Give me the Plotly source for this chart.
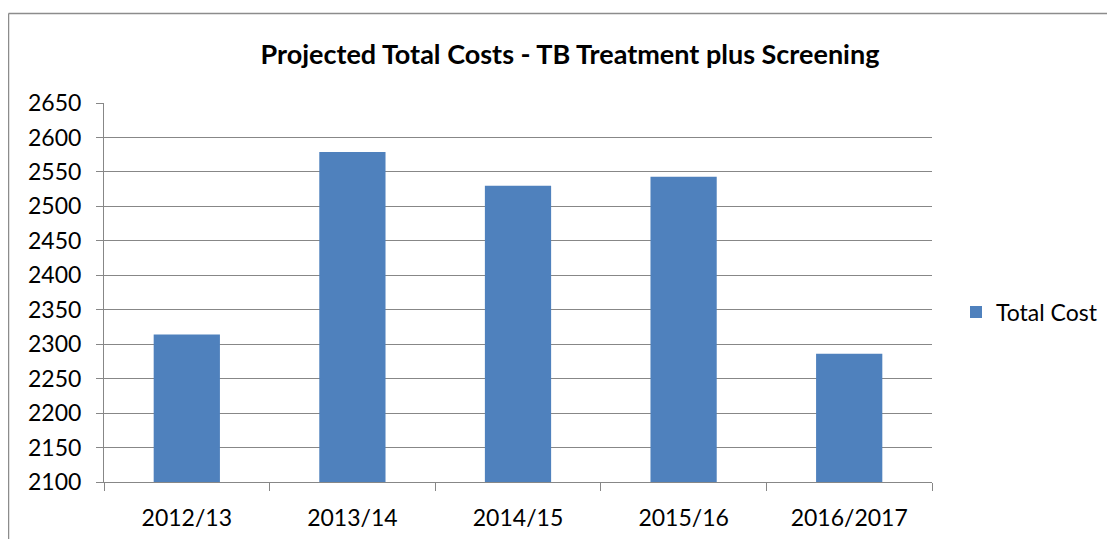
import plotly.graph_objects as go

categories = ["2012/13", "2013/14", "2014/15", "2015/16", "2016/2017"]
total_cost = [2314, 2579, 2530, 2543, 2286]
y_ticks = list(range(2100, 2651, 50))

FONT = "Lato, Carlito, Calibri, sans-serif"
GRID = "#878787"

# page body has an 8px margin; work in window coordinates and shift
OFF = 8
W, H = 1115 - OFF, 539 - OFF
L, R, T, B = 104 - OFF, 932 - OFF, 103 - OFF, 482 - OFF
pw, ph = R - L, B - T

def px(x):
    return (x - OFF - L) / pw

def py(y):
    return (B - (y - OFF)) / ph

fig = go.Figure()
fig.add_trace(go.Bar(
    x=categories, y=total_cost, name="Total Cost",
    marker=dict(color="#4F81BD", line=dict(width=0)),
    showlegend=True,
))

fig.update_layout(
    width=W, height=H,
    margin=dict(l=L, r=W - R, t=T, b=H - B, autoexpand=False),
    paper_bgcolor="white", plot_bgcolor="white",
    bargap=0.6,
    font=dict(family=FONT, size=23, color="#000000"),
    title=dict(text="<b>Projected Total Costs - TB Treatment plus Screening</b>",
               x=px(570), xref="paper", xanchor="center",
               y=1 - (55 - OFF) / H, yanchor="middle",
               font=dict(family=FONT, size=27, color="#000000")),
    legend=dict(x=px(956), y=py(312), xanchor="left", yanchor="middle",
                font=dict(family=FONT, size=23), bgcolor="rgba(0,0,0,0)",
                itemwidth=30),
    xaxis=dict(type="category", showline=True, linecolor=GRID, linewidth=1,
               ticks="outside", tickson="boundaries", ticklen=8, tickcolor=GRID,
               showgrid=False, tickfont=dict(family=FONT, size=23),
               ticklabelstandoff=15),
    yaxis=dict(range=[2100, 2650], tickvals=y_ticks, showline=True,
               linecolor=GRID, linewidth=1, ticks="outside", ticklen=7,
               tickcolor=GRID, showgrid=True, gridcolor=GRID, gridwidth=1,
               tickfont=dict(family=FONT, size=23), zeroline=False,
               ticklabelstandoff=10),
    shapes=[
        dict(type="line", xref="paper", yref="paper",
             x0=px(8.5), x1=px(8.5), y0=py(13.5), y1=py(560),
             line=dict(color="#8c8c8c", width=1.5)),
        dict(type="line", xref="paper", yref="paper",
             x0=px(8.5), x1=px(1130), y0=py(13.5), y1=py(13.5),
             line=dict(color="#8c8c8c", width=1.5)),
    ],
)

fig.write_html("out.html")
